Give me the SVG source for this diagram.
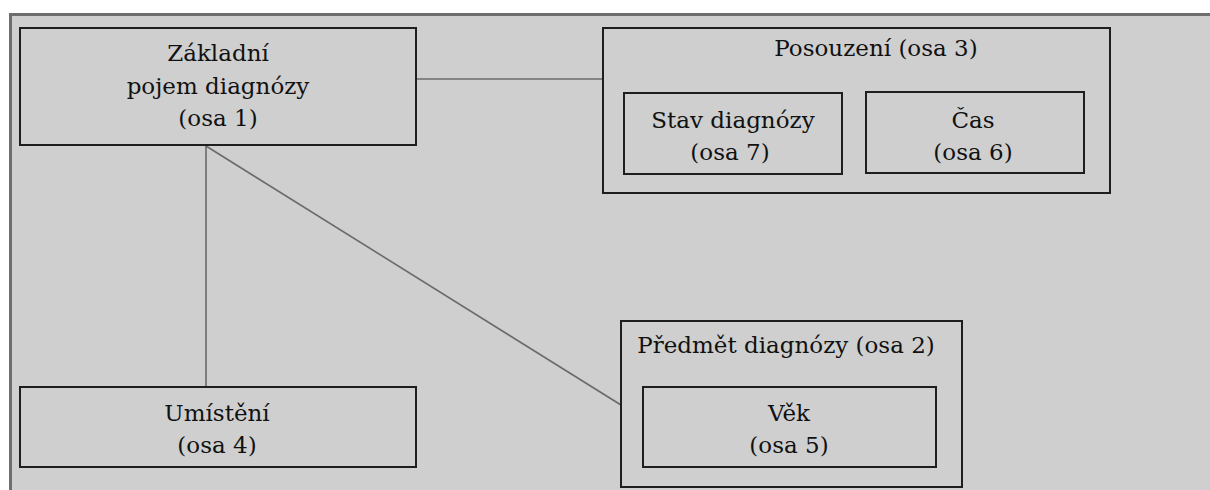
<svg xmlns="http://www.w3.org/2000/svg" width="1210" height="490" viewBox="0 0 1210 490">
<style>
.box{fill:#cfcfcf;stroke:#1e1e1e;stroke-width:2}
.t{font-family:'DejaVu Serif',serif;font-size:23px;fill:#111;text-anchor:middle}
.c{stroke:#6a6a6a;stroke-width:1.6;fill:none}
</style>
<rect x="0" y="0" width="1210" height="490" fill="#ffffff"/>
<rect x="10" y="14" width="1200" height="476" fill="#cfcfcf"/>
<path d="M10.5 490 V14.5 H1210" fill="none" stroke="#6e6e6e" stroke-width="3"/>
<g id="connectors">
<line class="c" x1="416" y1="79" x2="602" y2="79"/>
<line class="c" x1="206" y1="146" x2="206" y2="387"/>
<line class="c" x1="206" y1="146" x2="621" y2="405"/>
</g>
<g id="zakladni">
<rect class="box" x="20" y="28" width="396" height="117"/>
<text class="t" x="218" y="61">Základní</text>
<text class="t" x="218" y="94">pojem diagnózy</text>
<text class="t" x="218" y="126">(osa 1)</text>
</g>
<g id="posouzeni">
<rect class="box" x="603" y="28" width="507" height="165"/>
<text class="t" x="876" y="56">Posouzení (osa 3)</text>
</g>
<g id="stav">
<rect class="box" x="624" y="93" width="218" height="81"/>
<text class="t" x="733" y="128">Stav diagnózy</text>
<text class="t" x="730" y="160">(osa 7)</text>
</g>
<g id="cas">
<rect class="box" x="866" y="92" width="218" height="81"/>
<text class="t" x="973" y="128">Čas</text>
<text class="t" x="973" y="160">(osa 6)</text>
</g>
<g id="predmet">
<rect class="box" x="621" y="321" width="341" height="166"/>
<text class="t" x="786" y="353">Předmět diagnózy (osa 2)</text>
</g>
<g id="vek">
<rect class="box" x="643" y="387" width="293" height="80"/>
<text class="t" x="789" y="421">Věk</text>
<text class="t" x="789" y="453">(osa 5)</text>
</g>
<g id="umisteni">
<rect class="box" x="20" y="387" width="396" height="80"/>
<text class="t" x="217" y="421">Umístění</text>
<text class="t" x="217" y="453">(osa 4)</text>
</g>
</svg>
